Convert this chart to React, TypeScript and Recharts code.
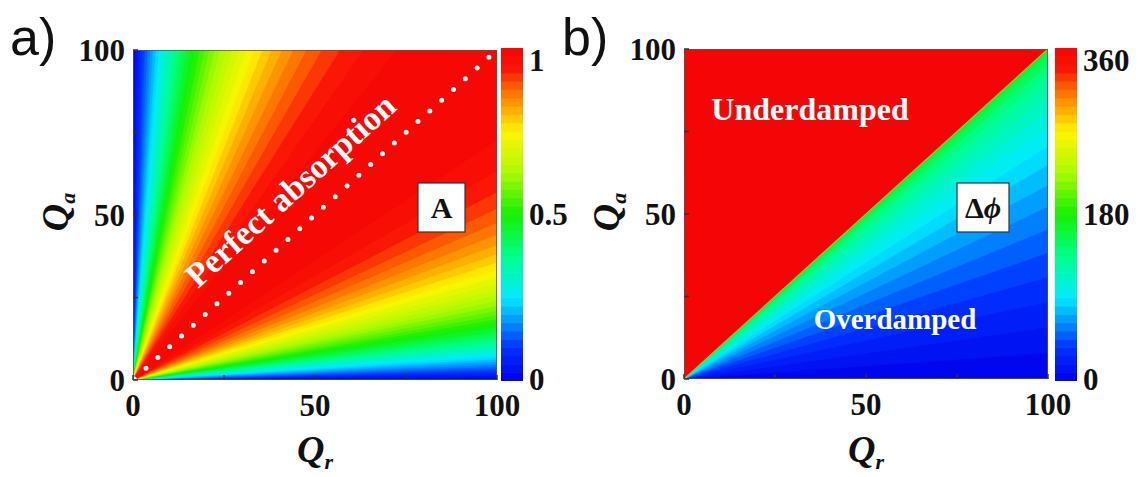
import React from 'react'
import { ComposedChart, Scatter, XAxis, YAxis } from 'recharts'

// a) absorption A: contour levels and where each level meets the Qr = 100 edge (mirrored on the Qa = 100 edge)
const absorptionLevels = [
  0, 0.025, 0.05, 0.075, 0.1, 0.125, 0.15, 0.175, 0.2, 0.225,
  0.25, 0.275, 0.3, 0.325, 0.35, 0.375, 0.4, 0.425, 0.45, 0.475,
  0.5, 0.525, 0.55, 0.575, 0.6, 0.625, 0.65, 0.675, 0.7, 0.725,
  0.75, 0.775, 0.8, 0.825, 0.85, 0.875, 0.9, 0.925, 0.95, 0.975,
]
const absorptionEdgeQa = [
  0, 0.63, 1.28, 1.95, 2.63, 3.34, 4.06, 4.81, 5.57, 6.36,
  7.18, 8.02, 8.89, 9.8, 10.73, 11.7, 12.7, 13.75, 14.84, 15.97,
  17.16, 18.4, 19.7, 21.07, 22.52, 24.04, 25.66, 27.38, 29.22, 31.2,
  33.33, 35.65, 38.2, 41.01, 44.17, 47.76, 51.95, 57.0, 63.45, 72.7,
]
const absorptionStep = 0.025

// b) phase excursion (deg) in the overdamped half, and where each level meets the Qr = 100 edge
const phaseLevels = [0, 9, 18, 27, 36, 45, 54, 63, 72, 81, 90, 99, 108, 117, 126, 135, 144, 153, 162, 171]
const phaseEdgeQa = [
  0, 7.85, 15.64, 23.34, 30.9, 38.27, 45.4, 52.25, 58.78, 64.94,
  70.71, 76.04, 80.9, 85.26, 89.1, 92.39, 95.11, 97.24, 98.77, 99.69,
]
const phaseStep = 9
const underdampedPhase = 360

const axisTicks = [0, 25, 50, 75, 100]
const axisLabels = [0, 50, 100]
const absorptionBarTicks = [0, 0.5, 1]
const phaseBarTicks = [0, 180, 360]
const diagonal = [{ x: 0, y: 0 }, { x: 100, y: 100 }]
const frame = [{ x: 0, y: 0 }, { x: 100, y: 0 }, { x: 100, y: 100 }, { x: 0, y: 100 }]

const colorStops = [
  [0, 0, 0, 235],
  [0.1, 0, 50, 255],
  [0.25, 0, 235, 255],
  [0.375, 0, 255, 140],
  [0.5, 20, 240, 0],
  [0.625, 170, 250, 0],
  [0.75, 255, 245, 0],
  [0.87, 255, 110, 0],
  [0.94, 250, 20, 5],
  [1, 245, 5, 5],
]

function colormap(t: number) {
  const v = Math.max(0, Math.min(1, t))
  for (let i = 1; i < colorStops.length; i++) {
    const [t1, r1, g1, b1] = colorStops[i]
    const [t0, r0, g0, b0] = colorStops[i - 1]
    if (v <= t1) {
      const f = (v - t0) / (t1 - t0)
      return `rgb(${Math.round(r0 + (r1 - r0) * f)},${Math.round(g0 + (g1 - g0) * f)},${Math.round(b0 + (b1 - b0) * f)})`
    }
  }
  return 'rgb(245,5,5)'
}

type Pt = { x: number; y: number }
type Band = { color: string; points: Pt[] }

const absorptionBands: Band[] = absorptionLevels.map((a, i) => {
  const e = absorptionEdgeQa[i]
  return {
    color: colormap(a + absorptionStep / 2),
    points: [{ x: 0, y: 0 }, { x: 100, y: e }, { x: 100, y: 100 }, { x: e, y: 100 }],
  }
})

const phaseBands: Band[] = [
  ...phaseLevels.map((p, i) => ({
    color: colormap((p + phaseStep / 2) / 360),
    points: [{ x: 0, y: 0 }, { x: 100, y: phaseEdgeQa[i] }, { x: 100, y: 100 }],
  })),
  { color: colormap(underdampedPhase / 360), points: [{ x: 0, y: 0 }, { x: 100, y: 100 }, { x: 0, y: 100 }] },
]

const absorptionBarBands: Band[] = absorptionLevels.map((a) => ({
  color: colormap(a + absorptionStep / 2),
  points: [{ x: 0, y: a }, { x: 1, y: a }, { x: 1, y: a + absorptionStep }, { x: 0, y: a + absorptionStep }],
}))

const phaseBarLevels = Array.from({ length: 40 }, (_, i) => i * phaseStep)
const phaseBarBands: Band[] = phaseBarLevels.map((p) => ({
  color: colormap((p + phaseStep / 2) / 360),
  points: [{ x: 0, y: p }, { x: 1, y: p }, { x: 1, y: p + phaseStep }, { x: 0, y: p + phaseStep }],
}))

const serif = "'Liberation Serif', 'Times New Roman', serif"
const tickStyle = { fontFamily: serif, fontWeight: 700, fontSize: 31, fill: '#111' }

const noShape = () => <g />

const polygon = (fill: string, stroke: string, width: number) => (props: any) => {
  const pts: Pt[] = props.points || []
  if (!pts.length) return <g />
  const d = 'M' + pts.map((p) => `${p.x},${p.y}`).join('L') + 'Z'
  return <path d={d} fill={fill} stroke={stroke} strokeWidth={width} />
}

const LeftTick = (props: any) => {
  const { x, y, payload } = props
  const v = payload.value
  return (
    <g>
      <line x1={x + 8} x2={x + 13} y1={y} y2={y} stroke="#333" strokeWidth={1.5} />
      {axisLabels.includes(v) && (
        <text x={x} y={y} dy="0.35em" textAnchor="end" style={tickStyle}>
          {v}
        </text>
      )}
    </g>
  )
}

const BottomTick = (props: any) => {
  const { x, y, payload } = props
  const v = payload.value
  return (
    <g>
      <line x1={x} x2={x} y1={y - 14} y2={y - 19} stroke="#333" strokeWidth={1.5} />
      {axisLabels.includes(v) && (
        <text x={x} y={y} dy="0.71em" textAnchor="middle" style={tickStyle}>
          {v}
        </text>
      )}
    </g>
  )
}

const makeBarTick = (max: number) => (props: any) => {
  const { x, y, payload } = props
  const v = payload.value
  const shift = v === max ? 12 : v === 0 ? -2 : 0
  return (
    <text x={x} y={y + shift} dy="0.35em" textAnchor="start" style={tickStyle}>
      {v}
    </text>
  )
}

function Heatmap({ bands, diag, diagLine }: { bands: Band[]; diag?: boolean; diagLine?: string }) {
  return (
    <ComposedChart width={540} height={477} margin={{ top: 50, right: 43, bottom: 0, left: 0 }}>
      <XAxis
        type="number"
        dataKey="x"
        domain={[0, 100]}
        ticks={axisTicks}
        interval={0}
        height={97}
        axisLine={false}
        tickLine={false}
        tickSize={0}
        tickMargin={14}
        tick={BottomTick}
        allowDataOverflow
      />
      <YAxis
        type="number"
        dataKey="y"
        domain={[0, 100]}
        ticks={axisTicks}
        interval={0}
        width={133}
        axisLine={false}
        tickLine={false}
        tickSize={0}
        tickMargin={8}
        tick={LeftTick}
        allowDataOverflow
      />
      {bands.map((b, i) => (
        <Scatter
          key={i}
          data={b.points}
          shape={noShape}
          line={polygon(b.color, b.color, 0.6)}
          isAnimationActive={false}
          legendType="none"
        />
      ))}
      {diagLine && (
        <Scatter
          data={diagonal}
          shape={noShape}
          line={{ stroke: diagLine, strokeWidth: 1.2 }}
          isAnimationActive={false}
          legendType="none"
        />
      )}
      {diag && (
        <Scatter
          data={diagonal}
          shape={noShape}
          line={{ stroke: '#fff', strokeWidth: 5, strokeDasharray: '0 15.96', strokeDashoffset: 14.3, strokeLinecap: 'round' }}
          isAnimationActive={false}
          legendType="none"
        />
      )}
      <Scatter
        data={frame}
        shape={noShape}
        line={polygon('none', '#555', 1.5)}
        isAnimationActive={false}
        legendType="none"
      />
    </ComposedChart>
  )
}

function ColorBar({ bands, max, ticks }: { bands: Band[]; max: number; ticks: number[] }) {
  return (
    <ComposedChart width={90} height={373} margin={{ top: 20, right: 0, bottom: 20, left: 0 }}>
      <XAxis type="number" dataKey="x" domain={[0, 1]} hide allowDataOverflow />
      <YAxis
        type="number"
        dataKey="y"
        orientation="right"
        domain={[0, max]}
        ticks={ticks}
        interval={0}
        width={68}
        axisLine={false}
        tickLine={false}
        tickSize={0}
        tickMargin={6}
        tick={makeBarTick(max)}
        allowDataOverflow
      />
      {bands.map((b, i) => (
        <Scatter
          key={i}
          data={b.points}
          shape={noShape}
          line={polygon(b.color, b.color, 0.8)}
          isAnimationActive={false}
          legendType="none"
        />
      ))}
    </ComposedChart>
  )
}

function AxisTitles({ dx }: { dx: number }) {
  const qStyle = { fontFamily: serif, fontWeight: 700, fontStyle: 'italic' as const, fontSize: 38, fill: '#111' }
  return (
    <g>
      <text x={315 + dx} y={462} textAnchor="middle" style={qStyle}>
        Q<tspan fontSize={22} dy={7}>r</tspan>
      </text>
      <text transform={`translate(${68 + dx},212) rotate(-90)`} textAnchor="middle" style={qStyle}>
        Q<tspan fontSize={22} dy={7}>a</tspan>
      </text>
    </g>
  )
}

export default function App() {
  const label = { fontFamily: serif, fontWeight: 700, fill: '#fff' }
  const boxText = { fontFamily: serif, fontWeight: 700, fontSize: 30, fill: '#111' }
  return (
    <div style={{ position: 'absolute', left: 0, top: 0, width: 1142, height: 477, background: '#fff', overflow: 'hidden' }}>
      <div style={{ position: 'absolute', left: 0, top: 0 }}>
        <Heatmap bands={absorptionBands} diag />
      </div>
      <div style={{ position: 'absolute', left: 501, top: 28 }}>
        <ColorBar bands={absorptionBarBands} max={1} ticks={absorptionBarTicks} />
      </div>
      <div style={{ position: 'absolute', left: 551, top: -1 }}>
        <Heatmap bands={phaseBands} diagLine="rgba(190,200,90,0.9)" />
      </div>
      <div style={{ position: 'absolute', left: 1055, top: 28 }}>
        <ColorBar bands={phaseBarBands} max={360} ticks={phaseBarTicks} />
      </div>
      <svg width={1142} height={477} style={{ position: 'absolute', left: 0, top: 0, pointerEvents: 'none' }}>
        <text x={10} y={55} style={{ fontFamily: "'Liberation Sans', Arial, sans-serif", fontSize: 52, fill: '#111' }}>
          a)
        </text>
        <text x={562} y={55} style={{ fontFamily: "'Liberation Sans', Arial, sans-serif", fontSize: 52, fill: '#111' }}>
          b)
        </text>
        <AxisTitles dx={0} />
        <AxisTitles dx={551} />
        <text x={0} y={0} transform="translate(298,199) rotate(-42)" textAnchor="middle" style={{ ...label, fontSize: 34 }}>
          Perfect absorption
        </text>
        <rect x={418} y={183} width={47} height={49} fill="#fff" stroke="#333" strokeWidth={1.2} />
        <text x={441.5} y={218} textAnchor="middle" style={boxText}>
          A
        </text>
        <text x={810} y={120} textAnchor="middle" style={{ ...label, fontSize: 32 }}>
          Underdamped
        </text>
        <text x={895} y={329} textAnchor="middle" style={{ ...label, fontSize: 29 }}>
          Overdamped
        </text>
        <rect x={957} y={183} width={52} height={49} fill="#fff" stroke="#333" strokeWidth={1.2} />
        <text x={983} y={218} textAnchor="middle" style={boxText}>
          Δ<tspan fontStyle="italic">ϕ</tspan>
        </text>
      </svg>
    </div>
  )
}
